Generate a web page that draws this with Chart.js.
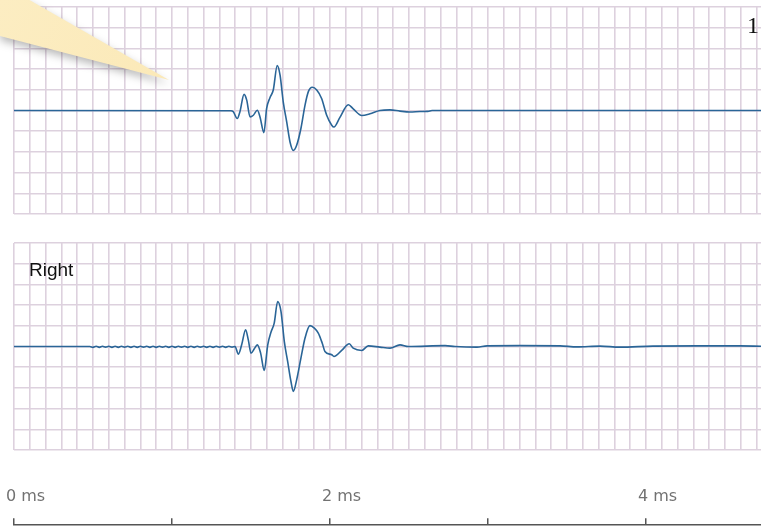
<!DOCTYPE html>
<html>
<head>
<meta charset="utf-8">
<script src="https://cdn.jsdelivr.net/npm/chart.js@4/dist/chart.umd.min.js"></script>
<style>
  html, body { margin: 0; padding: 0; background: #fff; }
  #wrap { position: relative; width: 761px; height: 528px; overflow: hidden; }
  canvas { position: absolute; left: 0; }
</style>
</head>
<body>
<div id="wrap">
  <canvas id="left" width="761" height="222" style="top:0"></canvas>
  <canvas id="right" width="761" height="222" style="top:236px"></canvas>
  <canvas id="axis" width="761" height="120" style="top:475px"></canvas>
</div>
<script>
// time in ms, amplitude in grid divisions
var timeMax = 4.728;
var axisTicks = [0, 1, 2, 3, 4];
var axisLabels = ['0 ms', '', '2 ms', '', '4 ms'];

var leftTime = [0, 1.373, 1.388, 1.413, 1.430, 1.456, 1.473, 1.494, 1.515, 1.540, 1.557, 1.582, 1.599, 1.620, 1.641,
	1.666, 1.684, 1.704, 1.726, 1.747, 1.768, 1.789, 1.816, 1.842, 1.863, 1.888, 1.916, 1.947, 1.979, 2.011,
	2.025, 2.063, 2.116, 2.147, 2.201, 2.253, 2.316, 2.380, 2.443, 2.506, 2.570, 2.620, 2.646, 4.8];
var leftValue = [0, -0.01, -0.06, -0.39, -0.06, 0.78, 0.50, -0.31, -0.23, 0.01, -0.31, -1.07, 0.10, 0.62, 0.99,
	2.17, 1.71, 0.42, -0.55, -1.52, -1.93, -1.68, -0.87, 0.26, 0.91, 1.12, 0.99, 0.58, -0.23, -0.71,
	-0.80, -0.33, 0.28, 0.08, -0.24, -0.16, 0, 0.03, -0.03, -0.07, -0.05, -0.04, 0, 0];

var rightTime = [0, 0.48, 0.50, 0.52, 0.54, 0.56, 0.58, 0.60, 0.62, 0.64, 0.66, 0.68, 0.70, 0.72, 0.74, 0.76,
	0.78, 0.80, 0.82, 0.84, 0.86, 0.88, 0.90, 0.92, 0.94, 0.96, 0.98, 1.00, 1.02, 1.04, 1.06, 1.08, 1.10,
	1.12, 1.14, 1.16, 1.18, 1.20, 1.22, 1.24, 1.26, 1.28, 1.30, 1.32, 1.34, 1.36, 1.38,
	1.399, 1.420, 1.441, 1.466, 1.483, 1.500, 1.521, 1.540, 1.561, 1.584, 1.606, 1.627, 1.647, 1.669, 1.690,
	1.711, 1.732, 1.753, 1.768, 1.789, 1.816, 1.842, 1.873, 1.901, 1.926, 1.951, 1.968, 2.011, 2.025, 2.074,
	2.122, 2.147, 2.201, 2.242, 2.316, 2.380, 2.443, 2.496, 2.728, 2.791, 2.930, 2.994, 3.203, 3.456, 3.563,
	3.709, 3.835, 4.044, 4.323, 4.595, 4.8];
var rightValue = [0, 0, -0.04, 0.01, -0.04, 0.01, -0.03, 0.01, -0.04, 0.01, -0.04, 0.01, -0.03, 0.01, -0.04, 0.01,
	-0.04, 0.01, -0.03, 0.01, -0.04, 0.01, -0.04, 0.01, -0.03, 0.01, -0.04, 0.01, -0.04, 0.01, -0.03, 0.01,
	-0.04, 0.01, -0.04, 0.01, -0.03, 0.01, -0.04, 0.01, -0.04, 0.01, -0.03, 0.01, -0.04, 0.01, -0.03,
	0, -0.37, 0.08, 0.81, 0.32, -0.32, -0.11, 0.08, -0.32, -1.16, 0.08, 0.70, 1.13, 2.17, 1.69,
	0.24, -0.72, -1.69, -2.17, -1.61, -0.56, 0.41, 1.01, 0.89, 0.65, 0.16, -0.24, -0.40, -0.48, -0.19,
	0.13, -0.08, -0.19, 0.03, -0.03, -0.08, 0.08, 0, 0.04, 0, -0.03, 0.03, 0.04, 0.03, -0.02,
	0.02, -0.03, 0.02, 0.03, 0.03, 0];

var gridColor = '#ddd1de';
var traceColor = '#2a6597';

function toPoints(xs, ys) {
	return xs.map(function (x, i) {
		return { x: x, y: ys[i] };
	});
}

var textPlugin = {
	id: 'panelText',
	afterDraw: function (chart, args, opts) {
		if (!opts || !opts.items) {
			return;
		}
		var ctx = chart.ctx;
		ctx.save();
		opts.items.forEach(function (it) {
			ctx.font = it.font;
			ctx.fillStyle = it.color;
			ctx.textBaseline = 'alphabetic';
			ctx.textAlign = 'left';
			ctx.fillText(it.text, it.x, it.y);
		});
		ctx.restore();
	}
};

var calloutPlugin = {
	id: 'callout',
	afterDraw: function (chart) {
		var ctx = chart.ctx;
		ctx.save();
		ctx.shadowColor = 'rgba(0, 0, 0, 0.28)';
		ctx.shadowBlur = 8;
		ctx.shadowOffsetY = 4;
		var g = ctx.createLinearGradient(0, 0, 170, 80);
		g.addColorStop(0, '#fcedc2');
		g.addColorStop(1, '#fbe9b8');
		ctx.fillStyle = g;
		ctx.beginPath();
		ctx.moveTo(0, -2);
		ctx.lineTo(26, -2);
		ctx.lineTo(169, 80);
		ctx.lineTo(0, 36);
		ctx.closePath();
		ctx.fill();
		ctx.restore();
	}
};

function panelConfig(xs, ys, textItems, extraPlugins) {
	return {
		type: 'line',
		data: {
			datasets: [{
				data: toPoints(xs, ys),
				borderColor: traceColor,
				borderWidth: 1.6,
				pointRadius: 0,
				cubicInterpolationMode: 'monotone',
				fill: false
			}]
		},
		options: {
			responsive: false,
			animation: false,
			layout: { padding: { left: 14, right: 0, top: 7, bottom: 8 } },
			plugins: {
				legend: { display: false },
				tooltip: { enabled: false },
				panelText: { items: textItems }
			},
			scales: {
				x: {
					type: 'linear',
					min: 0,
					max: timeMax,
					ticks: { display: false, stepSize: 0.1, includeBounds: false },
					grid: { color: gridColor, lineWidth: 1.6, drawTicks: false },
					border: { display: false }
				},
				y: {
					min: -5,
					max: 5,
					ticks: { display: false, stepSize: 1 },
					grid: { color: gridColor, lineWidth: 1.6, drawTicks: false },
					border: { display: false }
				}
			}
		},
		plugins: [textPlugin].concat(extraPlugins || [])
	};
}

new Chart(document.getElementById('left'), panelConfig(leftTime, leftValue, [
	{ text: '1', x: 747, y: 33, font: '24px "Liberation Serif"', color: '#111' }
], [calloutPlugin]));

new Chart(document.getElementById('right'), panelConfig(rightTime, rightValue, [
	{ text: 'Right', x: 29, y: 40, font: '19px "Liberation Sans"', color: '#111' }
]));

// axis canvas runs past the bottom of the window so the axis box gets enough room
new Chart(document.getElementById('axis'), {
	type: 'line',
	data: { datasets: [] },
	options: {
		responsive: false,
		animation: false,
		layout: { padding: { left: 14, right: 0, top: 0, bottom: 0 } },
		plugins: { legend: { display: false }, tooltip: { enabled: false } },
		scales: {
			x: {
				type: 'linear',
				position: 'top',
				min: 0,
				max: timeMax,
				ticks: {
					stepSize: 1,
					includeBounds: false,
					autoSkip: false,
					maxRotation: 0,
					align: 'start',
					labelOffset: -8,
					padding: 12,
					color: '#727272',
					font: { family: 'DejaVu Sans', size: 16 },
					callback: function (value) {
						var i = axisTicks.indexOf(value);
						return i >= 0 ? axisLabels[i] : '';
					}
				},
				grid: { drawOnChartArea: false, drawTicks: true, tickLength: 7, color: '#555', lineWidth: 1.5 },
				border: { display: true, color: '#555', width: 1.5 }
			},
			y: { display: false, min: 0, max: 1 }
		}
	}
});
</script>
</body>
</html>
